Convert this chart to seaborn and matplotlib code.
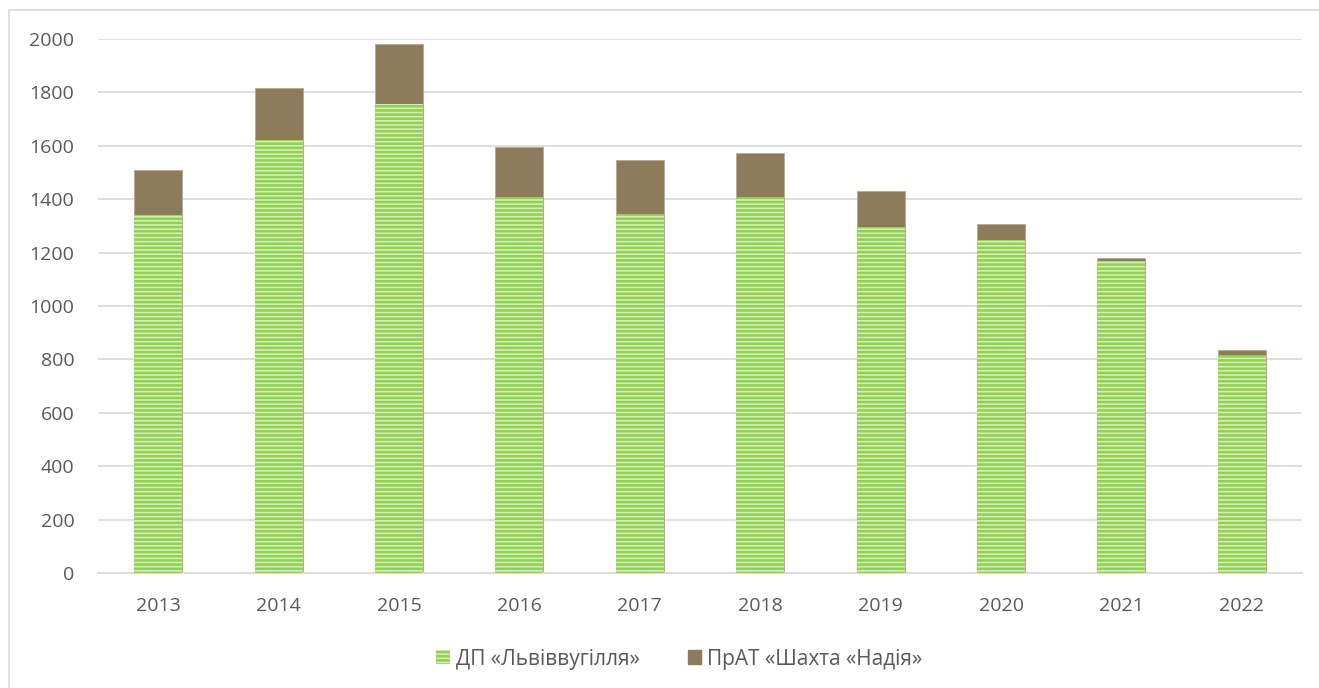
import matplotlib
matplotlib.use("Agg")
import matplotlib.pyplot as plt
import matplotlib.patches as mpatches
import seaborn as sns
import pandas as pd
import numpy as np

years = ["2013", "2014", "2015", "2016", "2017", "2018", "2019", "2020", "2021", "2022"]
lviv = [1341, 1622, 1757, 1408, 1345, 1409, 1295, 1247, 1168, 816]
nadiya = [168, 194, 224, 188, 200, 164, 134, 60, 12, 19]
series_names = ["ДП «Львіввугілля»", "ПрАТ «Шахта «Надія»"]

green = "#92D050"
green_bg = "#D3EDBA"
brown = "#8E7B5C"
text_col = "#595959"

sns.set_theme(style="white")
plt.rcParams["font.family"] = ["Open Sans", "DejaVu Sans"]
plt.rcParams["hatch.linewidth"] = 1.8
plt.rcParams["hatch.color"] = green

fig = plt.figure(figsize=(13.19, 6.88), dpi=100)
ax = fig.add_axes([98 / 1319, 1 - 573 / 688, (1302 - 98) / 1319, (573 - 39) / 688])

df = pd.DataFrame({"year": years, "lviv": lviv, "total": np.array(lviv) + np.array(nadiya)})

sns.barplot(data=df, x="year", y="total", color=brown, width=0.4, ax=ax,
            saturation=1, edgecolor="#B5A88F", linewidth=0.6, zorder=2)
sns.barplot(data=df, x="year", y="lviv", color=green_bg, width=0.4, ax=ax,
            saturation=1, linewidth=0, zorder=3)
for p in ax.patches[len(years):]:
    p.set_hatch("----")
    p.set_edgecolor(green)
    p.set_linewidth(0)

ax.set_ylim(0, 2000)
ax.set_xlim(-0.5, len(years) - 0.5)
ax.set_yticks(range(0, 2001, 200))
ax.yaxis.grid(True, color="#D9D9D9", linewidth=1.2, zorder=0)
ax.set_axisbelow(True)
for s in ["top", "right", "left"]:
    ax.spines[s].set_visible(False)
ax.spines["bottom"].set_color("#D9D9D9")
ax.spines["bottom"].set_linewidth(1.2)
ax.set_xlabel("")
ax.set_ylabel("")
ax.tick_params(axis="both", colors=text_col, labelsize=14, length=0)
ax.tick_params(axis="y", pad=17)
ax.tick_params(axis="x", pad=17)

h1 = mpatches.Patch(facecolor=green_bg, edgecolor=green, hatch="----", linewidth=0)
h2 = mpatches.Patch(facecolor=brown, edgecolor=brown)
leg = fig.legend([h1, h2], series_names, loc="center", bbox_to_anchor=(0.515, 1 - 659 / 688),
                 ncol=2, frameon=False, fontsize=15, handlelength=0.65, handleheight=0.65,
                 handletextpad=0.3, columnspacing=2.3)
for t in leg.get_texts():
    t.set_color(text_col)

frame = mpatches.Rectangle((9 / 1319, -0.05), 1.1, 1 - 10 / 688 + 0.05,
                           transform=fig.transFigure, fill=False,
                           edgecolor="#D9D9D9", linewidth=1.2)
fig.patches.append(frame)

fig.savefig("out.png", dpi=100)
